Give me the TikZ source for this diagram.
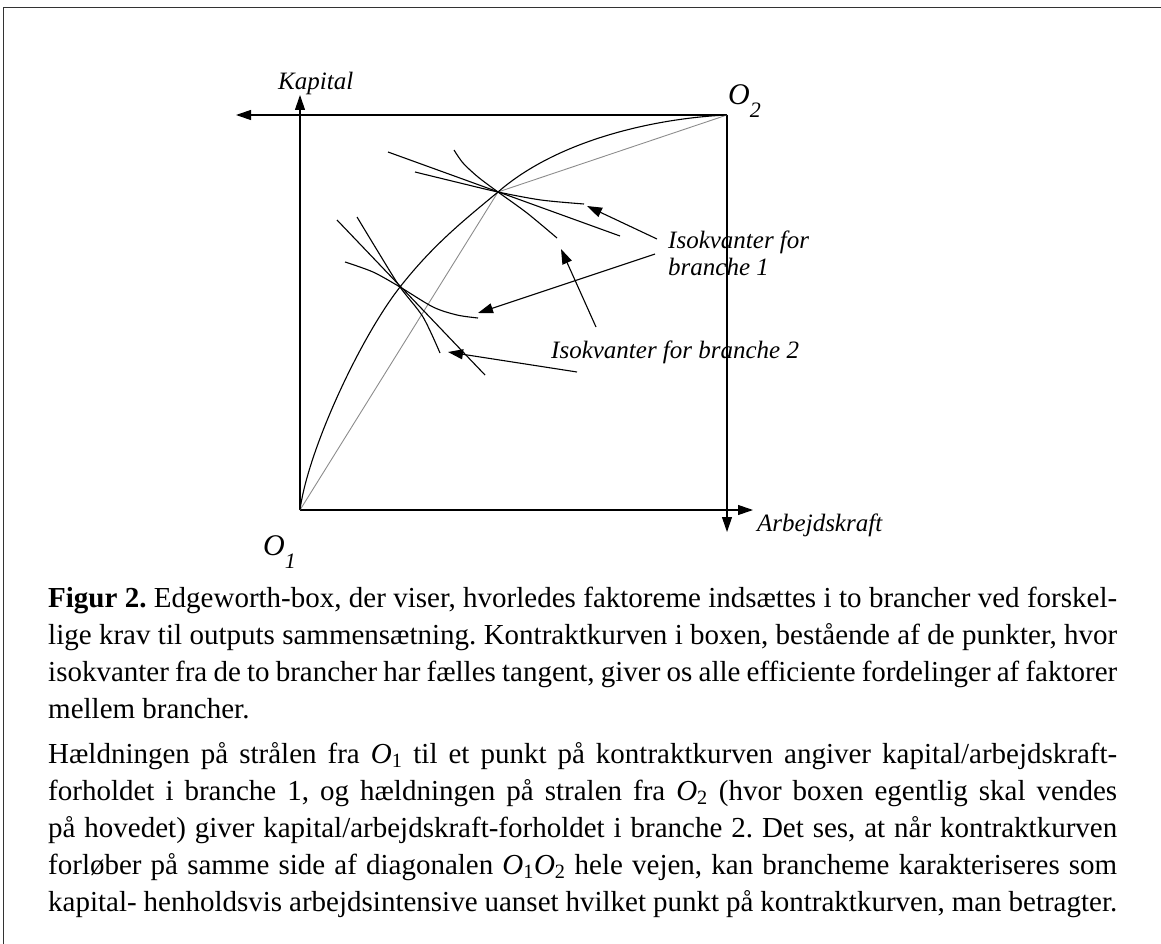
\documentclass[tikz,border=0pt]{standalone}
\usepackage{fontspec}
\setmainfont{Liberation Serif}
\usetikzlibrary{arrows.meta}
\newcommand\capline[1]{\hbox to\hsize{#1}}
\newcommand\capend[1]{\hbox to\hsize{#1\hfil}}
\begin{document}
\begin{tikzpicture}[x=1pt,y=-1pt,
  ax/.style={line width=1.1pt,-{Triangle[length=15pt,width=10pt]}},
  ray/.style={line width=0.9pt,black!45},
  curve/.style={line width=1.1pt},
  pointer/.style={line width=1.1pt,-{Triangle[length=15pt,width=10pt]}},
  lab/.style={inner sep=0pt,font=\fontsize{25}{25}\selectfont\itshape},
  orig/.style={inner sep=0pt,font=\fontsize{30}{30}\selectfont\itshape}]
\useasboundingbox (0,0) rectangle (1161,944);
% frame
\draw[line width=1.6pt,black!80] (3.5,944) -- (3.5,7.5) -- (1161,7.5);
% key points
\coordinate (O1) at (300,510);
\coordinate (O2) at (727,115);
\coordinate (P) at (498,192);
\coordinate (Q) at (400,287);
\coordinate (kaptip) at (300,95);
\coordinate (lefttip) at (236,115);
\coordinate (righttip) at (753,510);
\coordinate (downtip) at (727,532);
% axes
\draw[ax] (O1) -- (kaptip);
\draw[ax] (O1) -- (righttip);
\draw[ax] (O2) -- (lefttip);
\draw[ax] (O2) -- (downtip);
% rays
\draw[ray] (O1) -- (P) -- (O2);
% contract curve
\draw[curve] (O1) .. controls (308,450) and (360,338) .. (Q)
  .. controls (433,245) and (463,221) .. (P)
  .. controls (560,138) and (660,118) .. (O2);
% upper isoquants
\draw[curve] (388,152) -- (620,236);
\draw[curve] plot[smooth] coordinates {(415,172) (456,182) (498,192) (541,200) (584,204)};
\draw[curve] plot[smooth] coordinates {(454,150) (463,163) (478,177) (498,192) (527,213) (557,238)};
% lower isoquants
\draw[curve] (337,220) -- (485,375);
\draw[curve] plot[smooth] coordinates {(357,217) (377,250) (400,287) (423,317) (440,353)};
\draw[curve] plot[smooth] coordinates {(345,262) (373,272) (400,287) (433,307) (457,315) (478,318)};
% labels
\node[lab,anchor=base west] (kap) at (278,90) {Kapital};
\node[lab,anchor=base west] (arb) at (757,531) {Arbejdskraft};
\node[orig,anchor=base west] (o2) at (728,105) {O\raisebox{-13pt}{\fontsize{22}{22}\selectfont 2}};
\node[orig,anchor=base west] (o1) at (263,555) {O\raisebox{-13pt}{\fontsize{22}{22}\selectfont 1}};
\node[lab,anchor=base west] (iso1a) at (668,248) {Isokvanter for};
\node[lab,anchor=base west] (iso1b) at (668,275) {branche 1};
\node[lab,anchor=base west] (iso2) at (551,358) {Isokvanter for branche 2};
% pointers
\coordinate (a1s) at (657,239); \coordinate (a1e) at (587,206);
\coordinate (a2s) at (655,254); \coordinate (a2e) at (478,313);
\coordinate (a3s) at (596,327); \coordinate (a3e) at (561,249);
\coordinate (a4s) at (577,372); \coordinate (a4e) at (448,352);
\draw[pointer] (a1s) -- (a1e);
\draw[pointer] (a2s) -- (a2e);
\draw[pointer] (a3s) -- (a3e);
\draw[pointer] (a4s) -- (a4e);
% caption
\node[anchor=base west,inner sep=0pt,font=\fontsize{29}{37}\selectfont] (cap) at (48,607) {%
\vtop{\hsize=1069pt\baselineskip=37pt\lineskiplimit=-30pt\frenchspacing
\capline{\textbf{Figur 2.} Edgeworth-box, der viser, hvorledes faktoreme indsættes i to brancher ved forskel-}
\capline{lige krav til outputs sammensætning. Kontraktkurven i boxen, bestående af de punkter, hvor}
\capline{isokvanter fra de to brancher har fælles tangent, giver os alle efficiente fordelinger af faktorer}
\capend{mellem brancher.}
\vskip 8pt
\capline{Hældningen på strålen fra \textit{O}\textsubscript{1} til et punkt på kontraktkurven angiver kapital/arbejdskraft-}
\capline{forholdet i branche 1, og hældningen på stralen fra \textit{O}\textsubscript{2} (hvor boxen egentlig skal vendes}
\capline{på hovedet) giver kapital/arbejdskraft-forholdet i branche 2. Det ses, at når kontraktkurven}
\capline{forløber på samme side af diagonalen \textit{O}\textsubscript{1}\textit{O}\textsubscript{2} hele vejen, kan brancheme karakteriseres som}
\capend{kapital- henholdsvis arbejdsintensive uanset hvilket punkt på kontraktkurven, man betragter.}}};
\end{tikzpicture}
\end{document}
